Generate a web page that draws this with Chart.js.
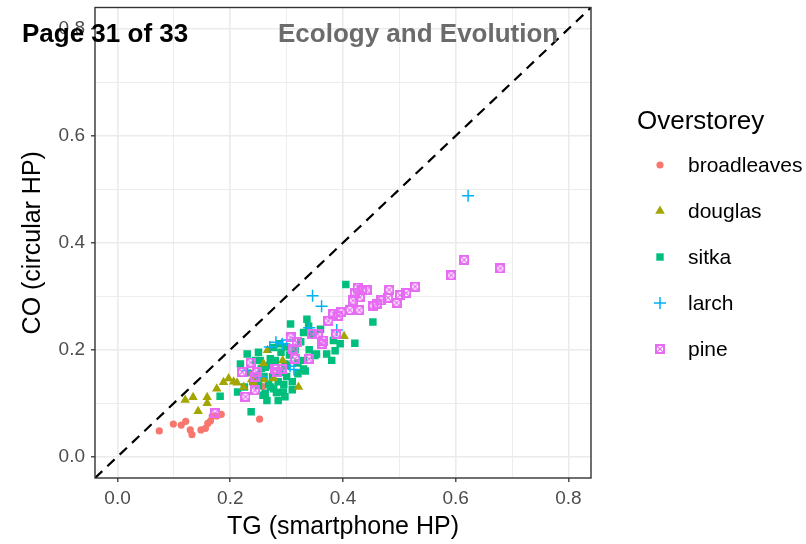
<!DOCTYPE html>
<html>
<head>
<meta charset="utf-8">
<script src="https://cdn.jsdelivr.net/npm/chart.js@4.4.1/dist/chart.umd.min.js"></script>
<style>
  body { margin: 0; background: #fff; }
</style>
</head>
<body>
<canvas id="chart" width="806" height="544"></canvas>
<script>
// Tick values (tenths; labels only on the even ones)
const tickValues = [0, 0.1, 0.2, 0.3, 0.4, 0.5, 0.6, 0.7, 0.8];
const axisMin = -0.04;
const axisMax = 0.84;

const seriesNames = ['broadleaves', 'douglas', 'sitka', 'larch', 'pine'];
const seriesColors = ['#F8766D', '#A3A500', '#00BF7D', '#00B0F6', '#E76BF3'];

// broadleaves
const broadleavesTG = [0.074, 0.099, 0.113, 0.121, 0.129, 0.132, 0.148, 0.156, 0.160, 0.165, 0.168, 0.176, 0.184, 0.252, 0.258];
const broadleavesCO = [0.048, 0.061, 0.059, 0.066, 0.050, 0.041, 0.050, 0.053, 0.062, 0.067, 0.076, 0.076, 0.079, 0.070, 0.131];

// douglas
const douglasTG = [0.120, 0.134, 0.159, 0.159, 0.143, 0.176, 0.188, 0.197, 0.206, 0.212, 0.224, 0.238, 0.235, 0.241, 0.259, 0.277, 0.266, 0.293, 0.259, 0.321, 0.402];
const douglasCO = [0.106, 0.111, 0.111, 0.100, 0.085, 0.127, 0.139, 0.146, 0.140, 0.138, 0.130, 0.144, 0.155, 0.139, 0.144, 0.146, 0.199, 0.180, 0.174, 0.130, 0.225];

// sitka
const sitkaTG = [0.182, 0.213, 0.237, 0.258, 0.271, 0.230, 0.218, 0.294, 0.297, 0.330, 0.307, 0.339, 0.353, 0.336, 0.405, 0.421, 0.453,
  0.330, 0.345, 0.360, 0.395, 0.386, 0.371, 0.380, 0.350, 0.330, 0.297, 0.288, 0.277, 0.288, 0.271, 0.262, 0.268, 0.277,
  0.333, 0.383, 0.250, 0.262, 0.253, 0.285, 0.300, 0.310, 0.320, 0.305, 0.315, 0.270, 0.280, 0.290, 0.300, 0.260, 0.240,
  0.225, 0.275, 0.255, 0.245, 0.320, 0.340, 0.295, 0.310, 0.285, 0.265, 0.250, 0.325, 0.300, 0.282, 0.245];
const sitkaCO = [0.113, 0.121, 0.084, 0.115, 0.130, 0.192, 0.173, 0.121, 0.112, 0.164, 0.248, 0.244, 0.192, 0.257, 0.322, 0.212, 0.252,
  0.232, 0.229, 0.238, 0.211, 0.198, 0.192, 0.180, 0.189, 0.180, 0.173, 0.158, 0.204, 0.211, 0.183, 0.167, 0.136, 0.127,
  0.160, 0.217, 0.133, 0.118, 0.180, 0.140, 0.150, 0.140, 0.155, 0.190, 0.200, 0.170, 0.180, 0.195, 0.170, 0.150, 0.140,
  0.130, 0.150, 0.165, 0.180, 0.175, 0.200, 0.135, 0.125, 0.105, 0.105, 0.195, 0.215, 0.205, 0.120, 0.150];

// larch
const larchTG = [0.622, 0.346, 0.362, 0.389, 0.340, 0.281, 0.292, 0.300, 0.231, 0.306, 0.313, 0.270, 0.255];
const larchCO = [0.488, 0.301, 0.281, 0.237, 0.241, 0.214, 0.211, 0.218, 0.161, 0.169, 0.163, 0.205, 0.150];

// pine
const pineTG = [0.615, 0.679, 0.592, 0.528, 0.512, 0.501, 0.482, 0.480, 0.468, 0.495, 0.460, 0.454, 0.442, 0.421, 0.418,
  0.430, 0.412, 0.429, 0.383, 0.392, 0.374, 0.388, 0.365, 0.307, 0.318, 0.312, 0.315, 0.345, 0.355, 0.362, 0.340, 0.280,
  0.291, 0.283, 0.236, 0.221, 0.247, 0.227, 0.244, 0.173, 0.244, 0.434, 0.426, 0.397];
const pineCO = [0.368, 0.352, 0.339, 0.318, 0.306, 0.302, 0.312, 0.297, 0.292, 0.288, 0.285, 0.282, 0.311, 0.306, 0.292,
  0.298, 0.274, 0.274, 0.267, 0.263, 0.254, 0.229, 0.217, 0.223, 0.214, 0.201, 0.183, 0.229, 0.229, 0.211, 0.183, 0.164,
  0.164, 0.158, 0.176, 0.158, 0.158, 0.112, 0.124, 0.081, 0.149, 0.311, 0.316, 0.270];

const FONT = '"Liberation Sans", Arial, Helvetica, sans-serif';

function pairs(xs, ys) {
    return xs.map((x, i) => ({ x: x, y: ys[i] }));
}

// square with an X inside (ggplot shape 7)
function makeBoxCross(color) {
    const c = document.createElement('canvas');
    c.width = 10;
    c.height = 10;
    const g = c.getContext('2d');
    g.strokeStyle = color;
    g.lineWidth = 2;
    g.strokeRect(1, 1, 8, 8);
    g.lineWidth = 1.1;
    g.beginPath();
    g.moveTo(2, 2); g.lineTo(8, 8);
    g.moveTo(8, 2); g.lineTo(2, 8);
    g.stroke();
    return c;
}
const pineMarker = makeBoxCross(seriesColors[4]);

const isMajor = v => Math.round(v * 10) % 2 === 0;

// panel border, legend and header text
const extrasPlugin = {
    id: 'extras',
    afterDatasetsDraw(chart) {
        const { ctx, chartArea: a } = chart;
        ctx.save();
        ctx.strokeStyle = '#333333';
        ctx.lineWidth = 1.4;
        ctx.strokeRect(a.left, a.top, a.right - a.left, a.bottom - a.top);
        ctx.restore();
    },
    afterDraw(chart) {
        const ctx = chart.ctx;
        ctx.save();
        // legend
        ctx.fillStyle = '#000';
        ctx.textBaseline = 'alphabetic';
        ctx.font = '26px ' + FONT;
        ctx.fillText('Overstorey', 637, 129);
        const ys = [165, 211, 257, 303, 349];
        ctx.font = '21px ' + FONT;
        ctx.textBaseline = 'middle';
        seriesNames.forEach((name, i) => {
            const x = 660, y = ys[i];
            ctx.fillStyle = seriesColors[i];
            ctx.strokeStyle = seriesColors[i];
            if (i === 0) {
                ctx.beginPath(); ctx.arc(x, y, 3.6, 0, Math.PI * 2); ctx.fill();
            } else if (i === 1) {
                ctx.beginPath();
                ctx.moveTo(x, y - 5.5); ctx.lineTo(x + 4.8, y + 2.75); ctx.lineTo(x - 4.8, y + 2.75);
                ctx.closePath(); ctx.fill();
            } else if (i === 2) {
                ctx.fillRect(x - 3.7, y - 3.7, 7.4, 7.4);
            } else if (i === 3) {
                ctx.lineWidth = 1.5;
                ctx.beginPath();
                ctx.moveTo(x - 6, y); ctx.lineTo(x + 6, y);
                ctx.moveTo(x, y - 6); ctx.lineTo(x, y + 6);
                ctx.stroke();
            } else {
                ctx.drawImage(pineMarker, x - 5, y - 5);
            }
            ctx.fillStyle = '#000';
            ctx.fillText(name, 688, y + 1);
        });
        // header text over the plot
        ctx.textBaseline = 'alphabetic';
        ctx.font = 'bold 26px ' + FONT;
        ctx.fillStyle = '#000';
        ctx.fillText('Page 31 of 33', 22, 42);
        ctx.fillStyle = '#6b6b6b';
        ctx.fillText('Ecology and Evolution', 278, 42);
        ctx.restore();
    }
};

function axisOptions(title, isX) {
    return {
        type: 'linear',
        min: axisMin,
        max: axisMax,
        afterBuildTicks: scale => {
            scale.ticks = tickValues.map(v => ({ value: v }));
        },
        afterFit: scale => {
            if (isX) scale.height = 66;
            else scale.width = 95;
            scale.paddingTop = 0;
            scale.paddingBottom = 0;
            scale.paddingLeft = 0;
            scale.paddingRight = 0;
        },
        border: { display: false },
        grid: {
            color: '#EBEBEB',
            lineWidth: c => (c.tick && isMajor(c.tick.value)) ? 1.6 : 0.9,
            tickLength: 4,
            tickColor: c => (c.tick && isMajor(c.tick.value)) ? '#333333' : 'rgba(0,0,0,0)',
            tickWidth: 1.3
        },
        ticks: {
            autoSkip: false,
            maxRotation: 0,
            padding: isX ? 5 : 6,
            color: '#4D4D4D',
            font: { family: FONT, size: 19 },
            callback: v => isMajor(v) ? v.toFixed(1) : ''
        },
        title: {
            display: true,
            text: title,
            color: '#000',
            font: { family: FONT, size: 25 },
            padding: isX ? { top: 0, bottom: 2 } : { top: 18, bottom: 0 }
        }
    };
}

document.addEventListener('DOMContentLoaded', () => {
    const ctx = document.getElementById('chart').getContext('2d');
    new Chart(ctx, {
        type: 'scatter',
        data: {
            datasets: [
                {
                    label: 'pine',
                    data: pairs(pineTG, pineCO),
                    pointStyle: pineMarker,
                    order: 1
                },
                {
                    label: 'larch',
                    data: pairs(larchTG, larchCO),
                    pointStyle: 'cross',
                    pointRadius: 6,
                    borderColor: seriesColors[3],
                    borderWidth: 1.5,
                    order: 2
                },
                {
                    label: 'douglas',
                    data: pairs(douglasTG, douglasCO),
                    pointStyle: 'triangle',
                    pointRadius: 5.5,
                    backgroundColor: seriesColors[1],
                    borderWidth: 0,
                    order: 3
                },
                {
                    label: 'sitka',
                    data: pairs(sitkaTG, sitkaCO),
                    pointStyle: 'rect',
                    pointRadius: 5.3,
                    backgroundColor: seriesColors[2],
                    borderWidth: 0,
                    order: 4
                },
                {
                    label: 'broadleaves',
                    data: pairs(broadleavesTG, broadleavesCO),
                    pointStyle: 'circle',
                    pointRadius: 3.6,
                    backgroundColor: seriesColors[0],
                    borderWidth: 0,
                    order: 5
                },
                {
                    label: '1:1',
                    data: [{ x: axisMin, y: axisMin }, { x: axisMax, y: axisMax }],
                    showLine: true,
                    pointRadius: 0,
                    borderColor: '#000',
                    borderWidth: 2.2,
                    borderDash: [10, 7],
                    order: 6
                }
            ]
        },
        options: {
            responsive: false,
            animation: false,
            layout: { padding: { top: 4, right: 215, left: 0, bottom: 0 } },
            plugins: {
                legend: { display: false },
                tooltip: { enabled: false }
            },
            scales: {
                x: axisOptions('TG (smartphone HP)', true),
                y: axisOptions('CO (circular HP)', false)
            }
        },
        plugins: [extrasPlugin]
    });
});
</script>
</body>
</html>
